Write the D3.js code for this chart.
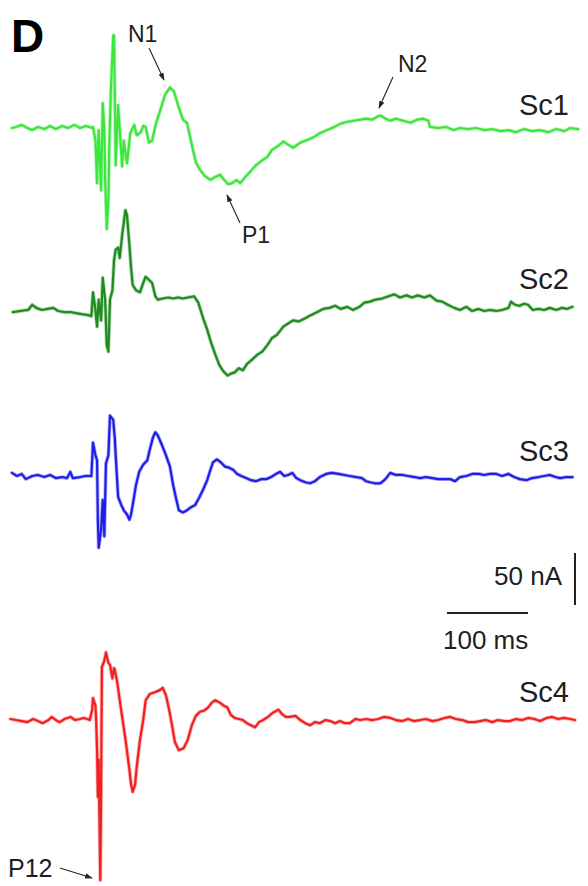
<!DOCTYPE html>
<html><head><meta charset="utf-8">
<script src="https://cdn.jsdelivr.net/npm/d3@7"></script>
<style>html,body{margin:0;padding:0;background:#fff;}svg{display:block;}</style>
</head><body>
<script>
// time (ms, relative to stimulus) and current (nA, upward positive)
const sc1 = [[-105,0],[-100,1],[-93,3],[-86,0],[-80,-2],[-73,1],[-65,-1],[-58,2],[-51,-1],[-43,2],[-36,0],[-28,3],[-21,0],[-14,2],[-6,0],
[-5,1],[-2,-12],[0,-53],[1,-21],[2,-2],[5,-60],[7,24],[9,-2],[10,-50],[12,-97],[14,-69],[15,-21],[17,35],[20,89],[21,89],[22,27],[23,-36],[26,22],[28,-2],[31,-37],[33,-12],[37,-34],[41,-5],[46,3],[49,-7],[54,-4],[57,2],[60,1],[64,-14],[68,-12],[73,5],[78,17],[84,32],[90,39],[95,35],[100,22],[106,8],[111,5],[117,-16],[122,-33],[127,-40],[133,-46],[140,-50],[146,-47],[152,-45],[157,-50],[162,-54],[167,-53],[172,-50],[177,-53],[182,-48],[189,-42],[196,-36],[204,-31],[210,-28],[216,-21],[224,-17],[230,-13],[236,-16],[242,-19],[251,-14],[258,-12],[267,-9],[275,-5],[284,-2],[293,1],[300,4],[309,6],[317,7],[325,8],[332,9],[340,8],[346,11],[350,12],[356,9],[362,7],[369,9],[378,7],[387,5],[395,8],[403,9],[409,7],[411,1],[421,0],[431,1],[440,-2],[448,0],[458,-1],[468,0],[478,-2],[488,-1],[498,-3],[508,-2],[517,-4],[527,-1],[537,-3],[547,-2],[557,-4],[567,-1],[577,-3],[584,0],[594,-1]];

const sc2 = [[-104,-1],[-95,0],[-85,1],[-80,6],[-75,3],[-68,1],[-61,2],[-54,3],[-48,0],[-41,-1],[-33,-1],[-26,-2],[-19,-3],[-11,-4],[-7,-5],
[-5,18],[-2,1],[0,-15],[2,11],[5,-9],[7,32],[10,11],[12,-33],[14,-39],[16,11],[19,20],[21,49],[23,59],[26,61],[28,51],[31,73],[35,97],[37,92],[40,63],[42,42],[44,25],[48,20],[53,18],[57,27],[60,33],[64,30],[68,27],[72,14],[75,11],[81,12],[88,13],[94,12],[100,13],[106,12],[112,13],[120,14],[125,8],[131,-7],[136,-18],[141,-31],[146,-42],[151,-52],[156,-58],[161,-62],[166,-60],[170,-59],[175,-55],[180,-57],[185,-51],[191,-47],[198,-42],[204,-39],[210,-33],[216,-26],[222,-23],[230,-15],[236,-12],[242,-9],[249,-10],[257,-7],[264,-4],[272,-1],[279,2],[287,3],[294,5],[301,2],[309,4],[316,1],[324,4],[330,8],[337,9],[344,11],[352,12],[359,14],[367,16],[374,13],[382,15],[389,13],[396,15],[404,13],[411,15],[419,10],[426,9],[433,6],[441,3],[448,1],[456,4],[463,0],[471,2],[478,0],[485,1],[493,0],[500,1],[508,3],[511,9],[516,6],[522,5],[527,7],[532,6],[538,1],[545,2],[552,1],[559,3],[567,1],[574,3],[580,2],[587,4]];

const sc3 = [[-105,3],[-99,0],[-93,2],[-88,-3],[-80,0],[-73,1],[-65,-1],[-58,1],[-51,-2],[-43,-1],[-37,-2],[-33,4],[-30,-2],[-21,-1],[-14,0],[-7,0],
[-5,32],[-2,20],[0,15],[1,-42],[2,-69],[5,-52],[7,-23],[9,-58],[11,12],[14,20],[16,58],[20,54],[22,35],[23,20],[26,-20],[30,-28],[33,-33],[37,-37],[40,-42],[42,-37],[44,-28],[48,-9],[52,4],[57,11],[62,15],[65,25],[69,37],[72,42],[75,39],[80,30],[85,20],[90,9],[94,-9],[98,-23],[101,-33],[106,-35],[111,-33],[116,-30],[121,-28],[126,-21],[131,-13],[136,-4],[140,6],[143,13],[148,16],[153,13],[158,9],[163,8],[168,6],[173,2],[178,0],[184,-2],[190,-4],[196,-5],[203,-3],[209,-3],[215,-1],[221,2],[226,4],[231,0],[236,1],[241,3],[246,-2],[251,-4],[257,-6],[263,-7],[269,-5],[275,-1],[283,2],[290,3],[298,2],[305,1],[312,0],[320,-1],[327,-2],[332,-5],[337,-6],[343,-7],[350,-7],[356,-3],[362,3],[369,1],[377,1],[384,0],[392,-1],[399,-2],[406,-1],[414,-2],[421,-3],[429,-3],[436,-3],[442,-5],[448,-1],[456,0],[463,2],[471,2],[478,1],[485,2],[493,2],[500,0],[508,2],[515,-1],[522,-3],[530,-4],[537,-2],[545,-1],[552,0],[559,1],[566,-1],[572,-2],[579,-1],[587,-1]];

const sc4 = [[-107,0],[-100,-1],[-93,-2],[-86,-3],[-79,0],[-73,-2],[-67,-4],[-60,-1],[-56,2],[-49,-2],[-46,-3],[-40,0],[-33,2],[-27,-1],[-21,0],[-17,1],[-12,0],[-9,-1],
[-6,9],[-5,20],[-2,13],[-1,-3],[0,-30],[1,-75],[2,-39],[4,-155],[5,-68],[6,50],[9,56],[11,64],[14,54],[16,52],[19,39],[21,49],[22,47],[25,35],[28,18],[32,-3],[36,-25],[40,-49],[42,-63],[44,-70],[47,-63],[49,-46],[53,-20],[57,-1],[60,18],[65,24],[72,26],[78,28],[81,30],[85,23],[89,9],[93,-8],[96,-22],[101,-30],[107,-28],[112,-20],[117,-6],[122,3],[127,7],[132,8],[137,11],[142,16],[146,18],[151,16],[156,13],[161,11],[165,4],[170,1],[175,0],[180,-1],[185,-4],[190,-6],[195,-8],[200,-3],[205,-1],[211,2],[217,6],[224,9],[228,5],[233,2],[238,2],[245,3],[251,-1],[257,-4],[263,-6],[269,-3],[275,-4],[282,-1],[288,-2],[294,-4],[300,-2],[306,-4],[312,-4],[319,0],[325,-1],[332,0],[340,-1],[347,0],[354,2],[362,1],[369,-1],[377,-2],[384,0],[391,-2],[399,-1],[406,0],[414,-2],[421,-1],[429,1],[436,2],[443,0],[451,-1],[458,-3],[466,-3],[473,-2],[480,-1],[488,-3],[495,-1],[503,-2],[510,-2],[517,0],[525,-1],[532,1],[540,0],[547,-2],[555,1],[562,2],[569,0],[577,1],[584,0],[590,-1]];

const seriesNames = ["Sc1","Sc2","Sc3","Sc4"];
const seriesData = [sc1, sc2, sc3, sc4];
const peakLabels = ["N1","P1","N2","P12"];
const scaleBarValues = {current: 50, time: 100};
const scaleBarLabels = ["50 nA","100 ms"];

// layout
const W = 588, H = 886;
const colors = ["#3de63d","#1f8c1f","#1f1fe6","#f22020"];
const baselines = [128, 311, 476, 719];

const svg = d3.select("body").append("svg").attr("width", W).attr("height", H);
const defs = svg.append("defs");
defs.append("marker").attr("id","arr").attr("viewBox","0 0 10 10").attr("refX",9).attr("refY",5)
  .attr("markerWidth",7).attr("markerHeight",7).attr("orient","auto-start-reverse")
  .append("path").attr("d","M0,1.5 L10,5 L0,8.5 Z").attr("fill","#222");

const x = d3.scaleLinear().domain([-105, 595]).range([12, 579]);
const y = d3.scaleLinear().domain([0, 50]).range([0, -52]);

const line = d3.line().x(d => x(d[0])).y(d => y(d[1]));

seriesData.forEach((data, i) => {
  const g = svg.append("g").attr("transform", `translate(0,${baselines[i]})`);
  g.append("path").datum(data).attr("d", line)
    .attr("fill","none").attr("stroke", colors[i]).attr("stroke-opacity", 0.35).attr("stroke-width", 3.8)
    .attr("stroke-linejoin","round").attr("stroke-linecap","round");
  g.append("path").datum(data).attr("d", line)
    .attr("fill","none").attr("stroke", colors[i]).attr("stroke-width", 2.2)
    .attr("stroke-linejoin","round").attr("stroke-linecap","round");
});

const font = "'Liberation Sans', Arial, Helvetica, sans-serif";
const txt = "#1e1e1e";

// series labels
const labelBase = [115, 289, 461, 702];
seriesNames.forEach((n, i) => {
  svg.append("text").attr("x", 569).attr("y", labelBase[i]).attr("text-anchor","end")
    .attr("font-family", font).attr("font-size", 29).attr("fill", txt).text(n);
});

// panel letter
svg.append("text").attr("x", 11).attr("y", 52).attr("font-family", font).attr("font-weight","bold")
  .attr("font-size", 46).attr("fill", "#000").text("D");

// peak annotations
const ann = [
  {t: peakLabels[0], tx: 128, ty: 42, fs: 23, a: [149,48,164,80]},
  {t: peakLabels[1], tx: 242, ty: 243, fs: 23, a: [240,223,227,195]},
  {t: peakLabels[2], tx: 398, ty: 72, fs: 23, a: [393,77,379,108]},
  {t: peakLabels[3], tx: 8, ty: 877, fs: 25, a: [60,868,92,878]}
];
ann.forEach(o => {
  svg.append("text").attr("x", o.tx).attr("y", o.ty).attr("font-family", font)
    .attr("font-size", o.fs).attr("fill", txt).text(o.t);
  svg.append("line").attr("x1", o.a[0]).attr("y1", o.a[1]).attr("x2", o.a[2]).attr("y2", o.a[3])
    .attr("stroke", "#222").attr("stroke-width", 1.1).attr("marker-end","url(#arr)");
});

// scale bars
const vbX = 575, vbBottom = 605;
svg.append("line").attr("x1", vbX).attr("x2", vbX)
  .attr("y1", vbBottom).attr("y2", vbBottom + y(scaleBarValues.current))
  .attr("stroke", "#222").attr("stroke-width", 2);
svg.append("text").attr("x", 562).attr("y", 585).attr("text-anchor","end").attr("font-family", font)
  .attr("font-size", 26).attr("fill", txt).text(scaleBarLabels[0]);
const hbY = 613, hbX0 = 447;
svg.append("line").attr("x1", hbX0).attr("x2", hbX0 + x(scaleBarValues.time) - x(0))
  .attr("y1", hbY).attr("y2", hbY).attr("stroke", "#222").attr("stroke-width", 2);
svg.append("text").attr("x", 443).attr("y", 649).attr("font-family", font)
  .attr("font-size", 26).attr("fill", txt).text(scaleBarLabels[1]);
</script>
</body></html>
